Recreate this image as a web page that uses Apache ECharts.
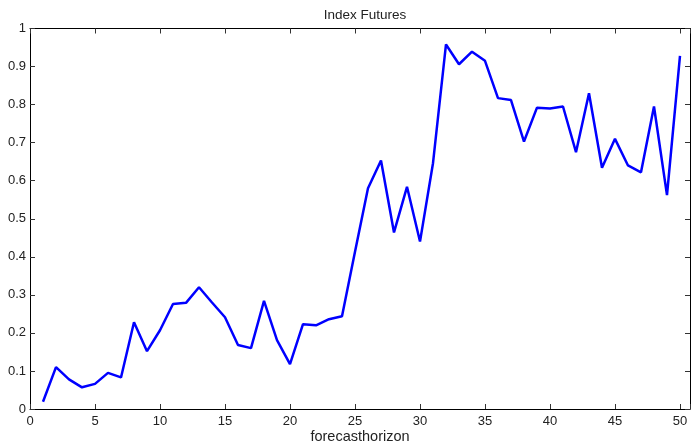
<!DOCTYPE html>
<html>
<head>
<meta charset="utf-8">
<script src="https://cdn.jsdelivr.net/npm/echarts@6/dist/echarts.min.js"></script>
<style>
html,body{margin:0;padding:0;background:#fff;overflow:hidden;}
#chart{width:691px;height:442px;}
</style>
</head>
<body>
<div id="chart"></div>
<script>
var titleText = 'Index Futures';
var xAxisName = 'forecasthorizon';
var horizons = [1,2,3,4,5,6,7,8,9,10,11,12,13,14,15,16,17,18,19,20,21,22,23,24,25,26,27,28,29,30,31,32,33,34,35,36,37,38,39,40,41,42,43,44,45,46,47,48,49,50];
var values = [0.019,0.110,0.078,0.057,0.066,0.095,0.083,0.228,0.152,0.207,0.276,0.279,0.320,0.280,0.241,0.168,0.160,0.284,0.181,0.118,0.223,0.220,0.236,0.244,0.413,0.580,0.653,0.464,0.584,0.440,0.646,0.958,0.906,0.939,0.915,0.817,0.812,0.703,0.792,0.790,0.795,0.675,0.830,0.634,0.710,0.640,0.622,0.795,0.562,0.928];

var font = 'Liberation Sans, Arial, Helvetica, sans-serif';
var seriesData = horizons.map(function(h, i){ return [h, values[i]]; });

var chart = echarts.init(document.getElementById('chart'), null, {renderer:'canvas'});
function axisLineStyle(){ return {show:true, onZero:false, lineStyle:{color:'#000', width:1}}; }
function tickStyle(){ return {show:true, inside:true, length:5, lineStyle:{color:'#333', width:1}}; }
chart.setOption({
  animation:false,
  backgroundColor:'#fff',
  title:{
    text:titleText, left:360, top:3, textAlign:'center',
    textStyle:{fontFamily:font, fontSize:13.5, fontWeight:'normal', color:'#222'}
  },
  grid:{left:30, right:1, top:28.5, bottom:33, containLabel:false, outerBoundsMode:'none'},
  xAxis:[{
    type:'value', min:0, max:50.77, interval:5, position:'bottom',
    name:xAxisName, nameLocation:'middle', nameGap:20, nameMoveOverlap:false,
    nameTextStyle:{fontFamily:font, fontSize:14.5, color:'#222', lineHeight:16},
    axisLine:axisLineStyle(), axisTick:tickStyle(),
    axisLabel:{fontFamily:font, fontSize:13, color:'#222', margin:6,
      formatter:function(v){ return (Math.abs(v % 5) < 1e-9) ? String(v) : ''; }},
    splitLine:{show:false}
  },{
    type:'value', min:0, max:50.77, interval:5, position:'top',
    axisLine:axisLineStyle(), axisTick:tickStyle(),
    axisLabel:{show:false}, splitLine:{show:false}
  }],
  yAxis:[{
    type:'value', min:0, max:1, interval:0.1, position:'left',
    axisLine:axisLineStyle(), axisTick:tickStyle(),
    axisLabel:{fontFamily:font, fontSize:13, color:'#222', margin:4,
      formatter:function(v){ return String(Math.round(v*10)/10); }},
    splitLine:{show:false}
  },{
    type:'value', min:0, max:1, interval:0.1, position:'right',
    axisLine:axisLineStyle(), axisTick:tickStyle(),
    axisLabel:{show:false}, splitLine:{show:false}
  }],
  series:[{
    type:'line', xAxisIndex:0, yAxisIndex:0, data:seriesData,
    showSymbol:false, symbol:'none',
    lineStyle:{color:'#0000ff', width:2.5},
    itemStyle:{color:'#0000ff'}
  }]
});
</script>
</body>
</html>
